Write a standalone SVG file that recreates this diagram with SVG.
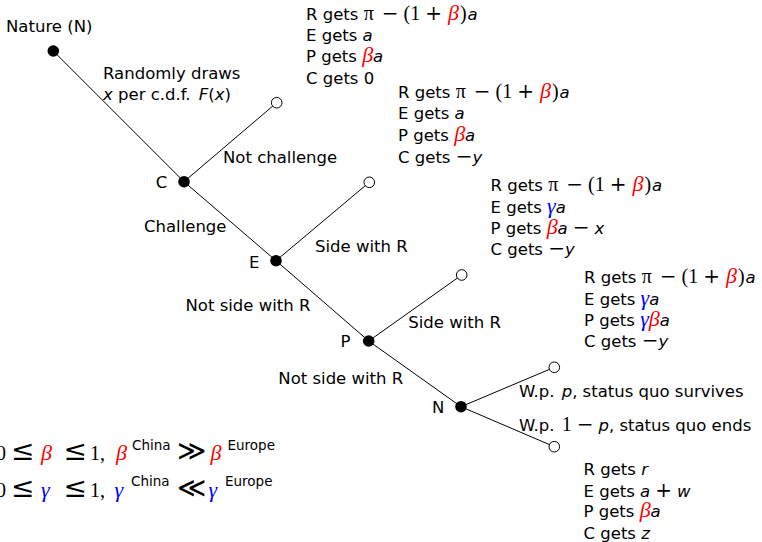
<svg xmlns="http://www.w3.org/2000/svg" width="762" height="542" viewBox="0 0 762 542">
<style>
.t{font-family:"DejaVu Sans",sans-serif;font-size:16.5px;fill:#000}
.v{font-family:"DejaVu Sans",sans-serif;font-style:italic;font-size:16.5px}
.m{font-family:"Liberation Serif",serif;font-size:20px}
.op{font-family:"DejaVu Serif",serif;font-size:20px}
.g{font-family:"Liberation Serif",serif;font-style:italic;font-size:22px}
.r{fill:#ff0000}
.b{fill:#0000ff}
.sup{font-family:"DejaVu Sans",sans-serif;font-size:13.5px}
.rel{font-family:"DejaVu Serif",serif;font-size:28px}
.e{stroke:#000;stroke-width:1;fill:none}
.dot{fill:#000}
.leaf{fill:#fff;stroke:#000;stroke-width:1}
</style>
<defs>
<text id="rrow" class="t" y="0">R gets <tspan class="m">π</tspan><tspan class="op" dx="8">−</tspan><tspan class="m" dx="5">(1</tspan><tspan class="op" dx="5">+</tspan><tspan class="g r" dx="6">β</tspan><tspan class="m" dx="1">)</tspan><tspan class="v" dx="1">a</tspan></text>
</defs>
<g id="connectors">
<line class="e" x1="53.3" y1="51" x2="184" y2="181.7"/>
<line class="e" x1="184" y1="181.7" x2="276.7" y2="102.7"/>
<line class="e" x1="184" y1="181.7" x2="276" y2="260.7"/>
<line class="e" x1="276" y1="260.7" x2="369.3" y2="182.3"/>
<line class="e" x1="276" y1="260.7" x2="368.7" y2="341"/>
<line class="e" x1="368.7" y1="341" x2="461.7" y2="275"/>
<line class="e" x1="368.7" y1="341" x2="461" y2="406.7"/>
<line class="e" x1="461" y1="406.7" x2="554.3" y2="367.3"/>
<line class="e" x1="461" y1="406.7" x2="554.3" y2="446.7"/>
</g>
<g id="edge-labels">
<text class="t" x="103" y="78.5">Randomly draws</text>
<text class="t" x="103" y="99.5"><tspan class="v">x</tspan> per c.d.f. <tspan class="v" dx="3">F</tspan>(<tspan class="v">x</tspan>)</text>
<text class="t" x="223" y="163.3">Not challenge</text>
<text class="t" x="144" y="231.7">Challenge</text>
<text class="t" x="315" y="251.5">Side with R</text>
<text class="t" x="185.5" y="310.7">Not side with R</text>
<text class="t" x="408.3" y="328.3">Side with R</text>
<text class="t" x="278.3" y="384">Not side with R</text>
<text class="t" x="519" y="396.7">W.p. <tspan class="v" dx="2">p</tspan>, status quo survives</text>
<text class="t" x="519" y="431">W.p. <tspan class="m" dx="2">1</tspan><tspan class="op" dx="5">−</tspan><tspan class="v" dx="5">p</tspan>, status quo ends</text>
</g>
<g id="node-nature">
<circle class="dot" cx="53.3" cy="51" r="5.8"/>
<text class="t" x="6" y="31.7">Nature (N)</text>
</g>
<g id="node-C">
<circle class="dot" cx="184" cy="181.7" r="5.8"/>
<text class="t" x="155.7" y="188.3">C</text>
</g>
<g id="leaf-not-challenge">
<circle class="leaf" cx="276.7" cy="102.7" r="5.3"/>
</g>
<g id="node-E">
<circle class="dot" cx="276" cy="260.7" r="5.8"/>
<text class="t" x="249" y="268">E</text>
</g>
<g id="leaf-E-side">
<circle class="leaf" cx="369.3" cy="182.3" r="5.3"/>
</g>
<g id="node-P">
<circle class="dot" cx="368.7" cy="341" r="5.8"/>
<text class="t" x="340.5" y="347.3">P</text>
</g>
<g id="leaf-P-side">
<circle class="leaf" cx="461.7" cy="275" r="5.3"/>
</g>
<g id="node-N">
<circle class="dot" cx="461" cy="406.7" r="5.8"/>
<text class="t" x="432" y="412.7">N</text>
</g>
<g id="leaf-survives">
<circle class="leaf" cx="554.3" cy="367.3" r="5.3"/>
</g>
<g id="leaf-ends">
<circle class="leaf" cx="554.3" cy="446.7" r="5.3"/>
</g>
<g id="payoff-1" transform="translate(306,19.5)">
<use href="#rrow"/>
<text class="t" y="21.3">E gets <tspan class="v">a</tspan></text>
<text class="t" y="42.7">P gets <tspan class="g r">β</tspan><tspan class="v">a</tspan></text>
<text class="t" y="64">C gets 0</text>
</g>
<g id="payoff-2" transform="translate(398,98)">
<use href="#rrow"/>
<text class="t" y="21.4">E gets <tspan class="v">a</tspan></text>
<text class="t" y="42.9">P gets <tspan class="g r">β</tspan><tspan class="v">a</tspan></text>
<text class="t" y="64.5">C gets <tspan class="op">−</tspan><tspan class="v">y</tspan></text>
</g>
<g id="payoff-3" transform="translate(490.5,191.3)">
<use href="#rrow"/>
<text class="t" y="21.4">E gets <tspan class="g b">γ</tspan><tspan class="v">a</tspan></text>
<text class="t" y="42.8">P gets <tspan class="g r">β</tspan><tspan class="v">a</tspan><tspan class="op" dx="5">−</tspan><tspan class="v" dx="5">x</tspan></text>
<text class="t" y="64">C gets <tspan class="op">−</tspan><tspan class="v">y</tspan></text>
</g>
<g id="payoff-4" transform="translate(584,283.3)">
<use href="#rrow"/>
<text class="t" y="21.4">E gets <tspan class="g b">γ</tspan><tspan class="v">a</tspan></text>
<text class="t" y="42.7">P gets <tspan class="g b">γ</tspan><tspan class="g r">β</tspan><tspan class="v">a</tspan></text>
<text class="t" y="64">C gets <tspan class="op">−</tspan><tspan class="v">y</tspan></text>
</g>
<g id="payoff-5" transform="translate(583.5,475.3)">
<text class="t" y="0">R gets <tspan class="v">r</tspan></text>
<text class="t" y="21.4">E gets <tspan class="v">a</tspan><tspan class="op" dx="5">+</tspan><tspan class="v" dx="5">w</tspan></text>
<text class="t" y="42">P gets <tspan class="g r">β</tspan><tspan class="v">a</tspan></text>
<text class="t" y="63.4">C gets <tspan class="v">z</tspan></text>
</g>
<g id="constraints">
<text y="460"><tspan class="m" x="-4">0</tspan><tspan class="rel" x="11">≤</tspan><tspan class="g r" x="41">β</tspan><tspan class="rel" x="63.5">≤</tspan><tspan class="m" x="90">1,</tspan><tspan class="g r" x="116">β</tspan><tspan class="sup" x="132" y="450">China</tspan><tspan class="rel" x="177" y="460">≫</tspan><tspan class="g r" x="210.5">β</tspan><tspan class="sup" x="227.5" y="450">Europe</tspan></text>
<text y="497"><tspan class="m" x="-4">0</tspan><tspan class="rel" x="11">≤</tspan><tspan class="g b" x="41">γ</tspan><tspan class="rel" x="63.5">≤</tspan><tspan class="m" x="90">1,</tspan><tspan class="g b" x="114.5">γ</tspan><tspan class="sup" x="131" y="486">China</tspan><tspan class="rel" x="177" y="497">≪</tspan><tspan class="g b" x="208.5">γ</tspan><tspan class="sup" x="225" y="486">Europe</tspan></text>
</g>
</svg>
